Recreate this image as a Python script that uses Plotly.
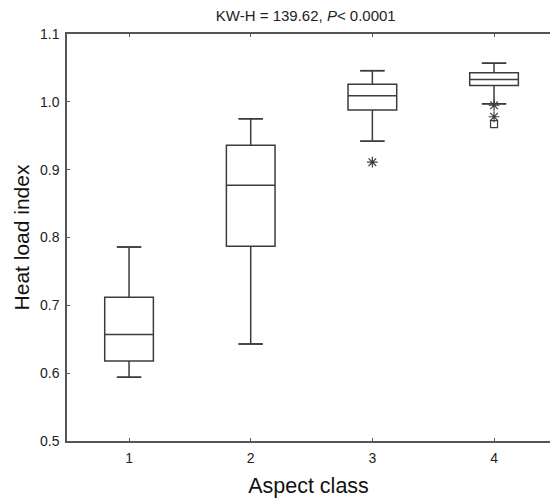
import plotly.graph_objects as go

# ---- data ----
categories = [1, 2, 3, 4]
lower_whisker = [0.594, 0.643, 0.942, 0.997]
q1_vals = [0.618, 0.787, 0.988, 1.024]
median_vals = [0.657, 0.877, 1.009, 1.033]
q3_vals = [0.712, 0.936, 1.026, 1.043]
upper_whisker = [0.786, 0.975, 1.046, 1.057]

star_x = [3, 4, 4]
star_y = [0.911, 0.995, 0.978]
square_x = [4]
square_y = [0.967]

tick_vals_y = [0.5, 0.6, 0.7, 0.8, 0.9, 1.0, 1.1]
tick_text_y = ["0.5", "0.6", "0.7", "0.8", "0.9", "1.0", "1.1"]

LINE = "#3c3c3c"
FONT = "Liberation Sans, Arial, sans-serif"
box_w = 0.4
cap_w = 0.2

fig = go.Figure()
fig.add_trace(go.Box(
    x=categories, q1=q1_vals, median=median_vals, q3=q3_vals,
    lowerfence=lower_whisker, upperfence=upper_whisker,
    width=box_w, boxpoints=False,
    fillcolor="rgba(0,0,0,0)", line=dict(color=LINE, width=1.5),
    showlegend=False, hoverinfo="skip",
))

# whisker caps
cap_x, cap_y = [], []
for c, lo, hi in zip(categories, lower_whisker, upper_whisker):
    cap_x += [c - cap_w / 2, c + cap_w / 2, None, c - cap_w / 2, c + cap_w / 2, None]
    cap_y += [lo, lo, None, hi, hi, None]
fig.add_trace(go.Scatter(x=cap_x, y=cap_y, mode="lines",
                         line=dict(color=LINE, width=1.5),
                         showlegend=False, hoverinfo="skip"))

fig.add_trace(go.Scatter(x=star_x, y=star_y, mode="markers",
                         marker=dict(symbol="asterisk-open", size=9, color=LINE,
                                     line=dict(color=LINE, width=1.2)),
                         showlegend=False))
fig.add_trace(go.Scatter(x=square_x, y=square_y, mode="markers",
                         marker=dict(symbol="square-open", size=7, color=LINE,
                                     line=dict(color=LINE, width=1.2)),
                         showlegend=False))

fig.update_layout(
    width=550, height=498,
    margin=dict(l=67, r=0, t=34, b=57, autoexpand=False),
    paper_bgcolor="white", plot_bgcolor="white",
    font=dict(family=FONT, color="#222"),
    title=dict(text="KW-H = 139.62, <i>P</i>< 0.0001",
               font=dict(size=15, family=FONT, color="#222"),
               x=0.556, xanchor="center", y=0.968, yanchor="middle"),
)
fig.update_xaxes(
    automargin=False,
    range=[0.49, 4.46], tickvals=categories, ticktext=[str(c) for c in categories],
    ticks="inside", ticklen=3, tickcolor="#555", tickwidth=1,
    showline=True, linecolor="#555", linewidth=1.5, mirror="ticks",
    showgrid=False, zeroline=False,
    tickfont=dict(size=14, family=FONT, color="#222"), ticklabelstandoff=3,
    title=dict(text="Aspect class", font=dict(size=21.5, family=FONT, color="#111"), standoff=13),
)
fig.update_yaxes(
    automargin=False,
    range=[0.5, 1.1], tickvals=tick_vals_y, ticktext=tick_text_y,
    ticks="inside", ticklen=3, tickcolor="#555", tickwidth=1,
    showline=True, linecolor="#555", linewidth=1.5,
    showgrid=False, zeroline=False,
    tickfont=dict(size=14, family=FONT, color="#222"), ticklabelstandoff=3,
    title=dict(text="Heat load index", font=dict(size=21, family=FONT, color="#111"), standoff=5),
)

fig.write_html("out.html", config={"displayModeBar": False},
               post_script="document.body.style.margin='0';")
